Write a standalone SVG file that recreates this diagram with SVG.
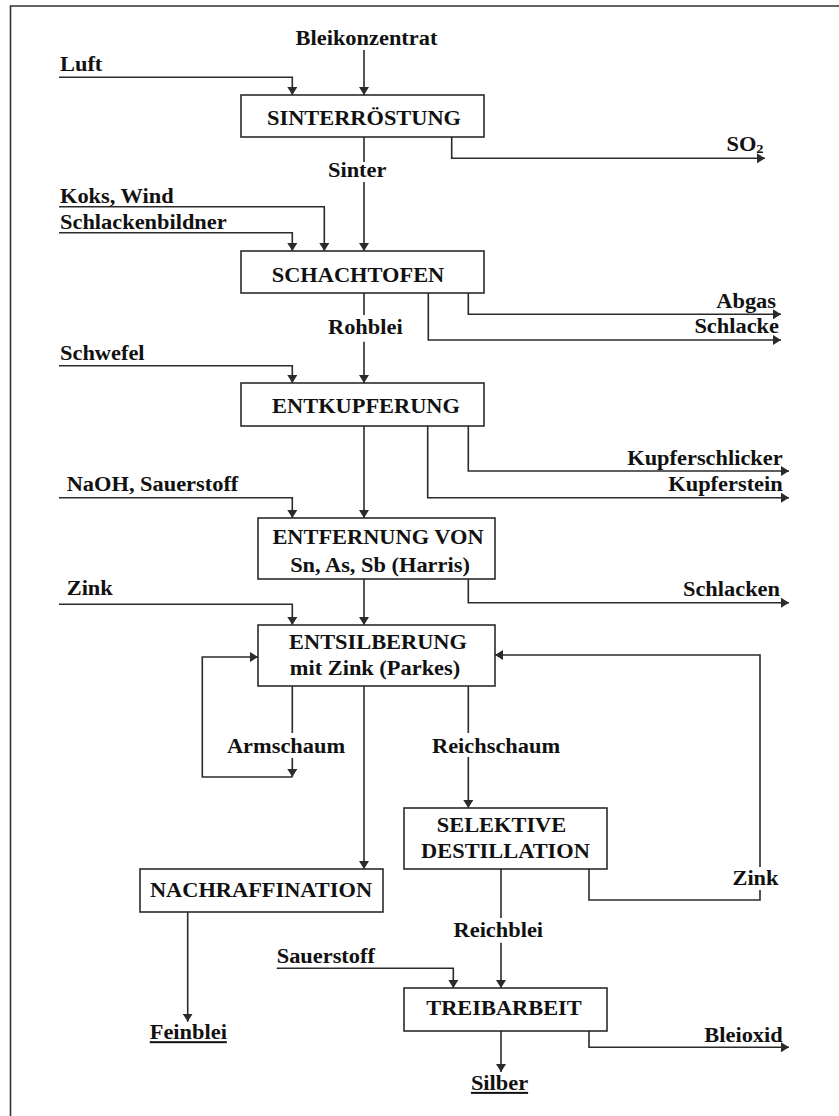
<svg xmlns="http://www.w3.org/2000/svg" width="839" height="1116" viewBox="0 0 839 1116">
<style>
.t{font-family:"Liberation Serif","Times New Roman",serif;font-weight:bold;font-size:20px;fill:#111}
.m{text-anchor:middle}
.e{text-anchor:end}
.u{text-decoration:underline}
.box{fill:#fff;stroke:#2b2b2b;stroke-width:1.6}
.c{fill:none;stroke:#2b2b2b;stroke-width:1.6}
.a{marker-end:url(#arr)}
</style>
<defs>
<marker id="arr" markerUnits="userSpaceOnUse" markerWidth="9" markerHeight="10" refX="8" refY="5" orient="auto">
<path d="M0,0 L8,5 L0,10 z" fill="#2b2b2b"/>
</marker>
</defs>
<rect width="839" height="1116" fill="#fff"/>
<path d="M10.5,1116 V6 H839" fill="none" stroke="#333" stroke-width="1.6"/>
<g id="connectors">
<path class="c a" d="M364,50 V95"/>
<path class="c a" d="M59,77.3 H292.3 V95"/>
<path class="c a" d="M451.7,137 V158.3 H765"/>
<path class="c a" d="M364,137 V162 M364,182 V251"/>
<path class="c a" d="M59,206.7 H324.3 V251"/>
<path class="c a" d="M59,232.7 H292.3 V251"/>
<path class="c a" d="M468.3,293 V314.3 H781"/>
<path class="c a" d="M428.3,293 V340 H781"/>
<path class="c a" d="M364,293 V315 M364,341.7 V383"/>
<path class="c a" d="M59,365.7 H292.3 V383"/>
<path class="c a" d="M468.3,426 V471 H789"/>
<path class="c a" d="M427.7,426 V497.7 H789"/>
<path class="c a" d="M364,426 V518"/>
<path class="c a" d="M59,497.7 H292.3 V518"/>
<path class="c a" d="M468.3,579 V602.7 H789"/>
<path class="c a" d="M364,579 V625"/>
<path class="c a" d="M59,604.3 H292.3 V625"/>
<path class="c a" d="M589,869 V900 H760 V890 M760,867 V655 H495"/>
<path class="c a" d="M292.3,686 V733 M292.3,758 V777"/>
<path class="c a" d="M292.3,777 H202.3 V657 H258"/>
<path class="c a" d="M364,686 V869"/>
<path class="c a" d="M468.3,686 V733 M468.3,757 V808"/>
<path class="c a" d="M501,869 V918 M501,942.7 V988"/>
<path class="c a" d="M276.7,968.3 H453.3 V988"/>
<path class="c a" d="M187.7,912 V1021.7"/>
<path class="c a" d="M501,1031 V1072"/>
<path class="c a" d="M589,1031 V1047.3 H789"/>
</g>
<g id="sinterroestung">
<rect class="box" x="241" y="95" width="243" height="42"/>
<text class="t m" transform="translate(364,124.5) scale(1.12,1)">SINTERRÖSTUNG</text>
</g>
<g id="schachtofen">
<rect class="box" x="241" y="251" width="243" height="42"/>
<text class="t m" transform="translate(358,281.5) scale(1.12,1)">SCHACHTOFEN</text>
</g>
<g id="entkupferung">
<rect class="box" x="241" y="383" width="243" height="43"/>
<text class="t m" transform="translate(366,412.5) scale(1.12,1)">ENTKUPFERUNG</text>
</g>
<g id="entfernung">
<rect class="box" x="258" y="518" width="237" height="61"/>
<text class="t m" transform="translate(378,544) scale(1.12,1)">ENTFERNUNG VON</text>
<text class="t m" transform="translate(380,571.5) scale(1.12,1)">Sn, As, Sb (Harris)</text>
</g>
<g id="entsilberung">
<rect class="box" x="258" y="625" width="237" height="61"/>
<text class="t m" transform="translate(378,649.3) scale(1.12,1)">ENTSILBERUNG</text>
<text class="t m" transform="translate(375,675) scale(1.12,1)">mit Zink (Parkes)</text>
</g>
<g id="nachraffination">
<rect class="box" x="140" y="869" width="243" height="43"/>
<text class="t m" transform="translate(261,896.7) scale(1.12,1)">NACHRAFFINATION</text>
</g>
<g id="selektive-destillation">
<rect class="box" x="404" y="808" width="203" height="61"/>
<text class="t m" transform="translate(501.5,831.7) scale(1.12,1)">SELEKTIVE</text>
<text class="t m" transform="translate(505.5,858.3) scale(1.12,1)">DESTILLATION</text>
</g>
<g id="treibarbeit">
<rect class="box" x="404" y="988" width="203" height="43"/>
<text class="t m" transform="translate(504,1015) scale(1.12,1)">TREIBARBEIT</text>
</g>
<g id="labels">
<text class="t m" transform="translate(366.5,45) scale(1.12,1)">Bleikonzentrat</text>
<text class="t" transform="translate(60,70.5) scale(1.12,1)">Luft</text>
<text class="t" transform="translate(328,176.5) scale(1.12,1)">Sinter</text>
<text class="t" transform="translate(726.5,150.5) scale(1.12,1)">SO<tspan font-size="13" dy="2.5">2</tspan></text>
<text class="t" transform="translate(60,202.7) scale(1.12,1)">Koks, Wind</text>
<text class="t" transform="translate(60,229.3) scale(1.12,1)">Schlackenbildner</text>
<text class="t" transform="translate(328,334) scale(1.12,1)">Rohblei</text>
<text class="t e" transform="translate(776,307.7) scale(1.12,1)">Abgas</text>
<text class="t e" transform="translate(779,333.3) scale(1.12,1)">Schlacke</text>
<text class="t" transform="translate(60,360) scale(1.12,1)">Schwefel</text>
<text class="t e" transform="translate(782.7,465) scale(1.12,1)">Kupferschlicker</text>
<text class="t e" transform="translate(782.7,491) scale(1.12,1)">Kupferstein</text>
<text class="t" transform="translate(66.7,490.7) scale(1.12,1)">NaOH, Sauerstoff</text>
<text class="t" transform="translate(66.7,595) scale(1.12,1)">Zink</text>
<text class="t e" transform="translate(780,595.7) scale(1.12,1)">Schlacken</text>
<text class="t m" transform="translate(286,753.3) scale(1.12,1)">Armschaum</text>
<text class="t m" transform="translate(496,753.3) scale(1.12,1)">Reichschaum</text>
<text class="t m" transform="translate(755.5,885) scale(1.12,1)">Zink</text>
<text class="t m" transform="translate(498.3,936.7) scale(1.12,1)">Reichblei</text>
<text class="t" transform="translate(276.7,962.7) scale(1.12,1)">Sauerstoff</text>
<text class="t m u" transform="translate(188.3,1039.3) scale(1.12,1)">Feinblei</text>
<text class="t m u" transform="translate(499.5,1090) scale(1.12,1)">Silber</text>
<text class="t e" transform="translate(782.7,1041.7) scale(1.12,1)">Bleioxid</text>
</g>
</svg>
